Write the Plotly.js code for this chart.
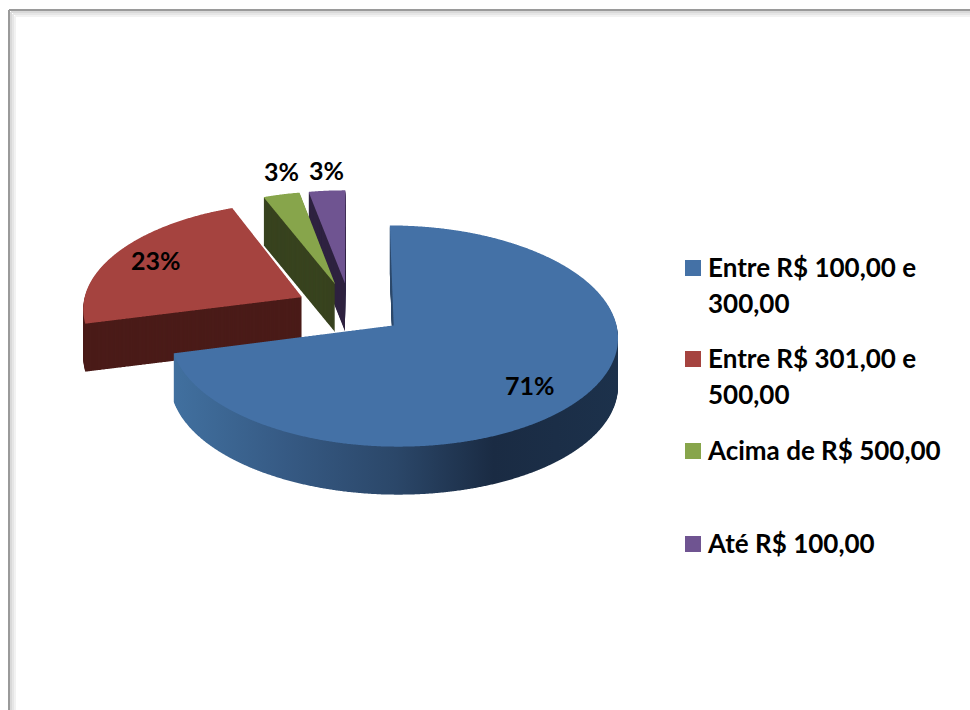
<!DOCTYPE html>
<html><head><meta charset="utf-8">
<script src="https://cdn.plot.ly/plotly-3.0.1.min.js"></script>
<style>html,body{margin:0;padding:0;background:#fff}#c{width:970px;height:710px}</style>
</head><body><div id="c"></div>
<script>
// Data
const categories = ['Entre R$ 100,00 e<br>300,00','Entre R$ 301,00 e<br>500,00','Acima de R$ 500,00','Até R$ 100,00'];
const shares = [71,23,3,3];
// Styles
const topColors = ['#4471a6','#a5433f','#87a54b','#6f5491'];
const wallColors = ['#2d4a6e','#4a1b18','#38431f','#2f2340'];
const slicePull = [0.248,0.248,0.248,0.248];
const labelX = [530,156,281,326];
const labelY = [385,260,171,170];
const legendY = [268,359,451,544];

const W=970,H=710, pieX=351, half=282, pieY=340, depthLayers=48, depthPx=48;
// tilted-view projection of the flat pie
const tilt={a:-0.00042,s:0.471,m:0.972,X0:350,Y0:309};
const pie = (colors,extra)=>Object.assign({type:'pie',labels:categories,values:shares,sort:false,direction:'clockwise',rotation:0,
  pull:slicePull,domain:{x:[(pieX-half)/W,(pieX+half)/W],y:[1-(pieY+half)/H,1-(pieY-half)/H]},textinfo:'none',showlegend:false,hoverinfo:'skip',
  marker:{colors:colors,line:{width:0}}},extra||{});
const clear='rgba(0,0,0,0)';
const traces=[];
for(let d=depthLayers;d>=1;d--) traces.push(pie([clear,wallColors[1],wallColors[2],wallColors[3]]));
for(let d=depthLayers;d>=1;d--) traces.push(pie([wallColors[0],clear,clear,clear]));
traces.push(pie(topColors,{showlegend:true}));

const annotations=shares.map((v,i)=>({text:'<b>'+v+'%</b>',xref:'paper',yref:'paper',x:labelX[i]/W,y:1-labelY[i]/H,
  showarrow:false,xanchor:'center',yanchor:'middle',font:{family:'Lato',size:25,color:'#000'}}));

const frame=[];
[['#f2f2f2',2,6],['#e6e6e6',2,4],['#d9d9d9',2,2],['#9a9a9a',2,0]].forEach(([c,w,o])=>{
  frame.push({type:'line',xref:'paper',yref:'paper',x0:(9+o)/W,x1:1,y0:1-(10+o)/H,y1:1-(10+o)/H,line:{color:c,width:w},layer:'below'});
  frame.push({type:'line',xref:'paper',yref:'paper',x0:(9+o)/W,x1:(9+o)/W,y0:0,y1:1-(10+o)/H,line:{color:c,width:w},layer:'below'});
});

const layout={width:W,height:H,margin:{l:0,r:0,t:0,b:0},paper_bgcolor:'#fff',plot_bgcolor:'#fff',
  font:{family:'Lato',color:'#000'},shapes:frame,annotations:annotations,
  legend:{x:668/W,y:1-200/H,xanchor:'left',yanchor:'top',traceorder:'normal',bgcolor:clear,font:{family:'Lato',size:26,color:'#000',weight:700}}};

Plotly.newPlot('c',traces,layout,{staticPlot:true,displayModeBar:false}).then(gd=>{
  const NS='http://www.w3.org/2000/svg';
  const svg=gd.querySelector('.main-svg');
  const defs=svg.querySelector('defs')||svg.insertBefore(document.createElementNS(NS,'defs'),svg.firstChild);
  const g=document.createElementNS(NS,'linearGradient'); g.id='blueWall';
  [[0,'#41709f'],[0.25,'#365a84'],[0.5,'#2b4769'],[0.72,'#1a2b43'],[1,'#1c314b']].forEach(([o,c])=>{
    const s=document.createElementNS(NS,'stop');s.setAttribute('offset',o);s.setAttribute('stop-color',c);g.appendChild(s);});
  defs.appendChild(g);

  const pl=gd.querySelector('.pielayer');
  const ts=[...pl.querySelectorAll('.trace')];
  // outline of every slice as the library drew it
  const outlines=[...ts[ts.length-1].querySelectorAll('.slice .surface')].map(p=>{
    const L=p.getTotalLength(), pts=[]; const n=Math.ceil(L);
    const d0=p.getAttribute('d'); const m=d0.match(/^M\s*([-\d.]+)[ ,]([-\d.]+)/);
    for(let i=0;i<=n;i++){const q=p.getPointAtLength(L*i/n);pts.push([q.x,q.y]);}
    if(m) pts.unshift([+m[1],+m[2]]);
    return pts;
  });
  const project=(pts,depth)=>'M'+pts.map(([x,y])=>{
    const v=y-pieY, w=1+tilt.a*v;
    return (tilt.X0+tilt.m*(x-pieX)/w).toFixed(1)+','+(tilt.Y0+tilt.s*v/w+depth).toFixed(1);
  }).join('L')+'Z';
  ts.forEach((t,i)=>{
    const group=i<depthLayers?0:(i<2*depthLayers?1:2);
    const layer=group===2?0:depthLayers-(i-(group?depthLayers:0));
    const depth=depthPx*layer/depthLayers;
    t.querySelectorAll('.slice .surface').forEach((p,k)=>{
      if(group===0&&k===0) return; if(group===1&&k!==0) return;
      p.setAttribute('d',project(outlines[k],depth));
      if(group===1) p.style.fill='url(#blueWall)';
    });
  });

  // legend spacing as in the reference
  const leg=gd.querySelector('.legend');
  const box=leg.querySelector('.scrollbox'); if(box) box.removeAttribute('clip-path');
  const legTop=200;
  leg.querySelectorAll('.traces').forEach((it,i)=>{
    it.setAttribute('transform','translate(0,'+(legendY[i]-legTop)+')');
    const tx=it.querySelector('.legendtext');
    const lines=tx.querySelectorAll('tspan.line');
    const y0=(parseFloat(tx.getAttribute('y'))||0)+(lines.length>1?16:0);
    lines.forEach((l,k)=>{l.removeAttribute('dy');l.setAttribute('x',tx.getAttribute('x')||0);l.setAttribute('y',y0+35.5*k);});
    if(!lines.length) tx.setAttribute('y',y0-1);
    const sw=it.querySelector('.legendpoints path, .legendpie path, .legendpoints .legendpie');
    if(sw){ sw.setAttribute('d','M13,8H-3V-8H13Z'); }
  });
});
</script></body></html>
